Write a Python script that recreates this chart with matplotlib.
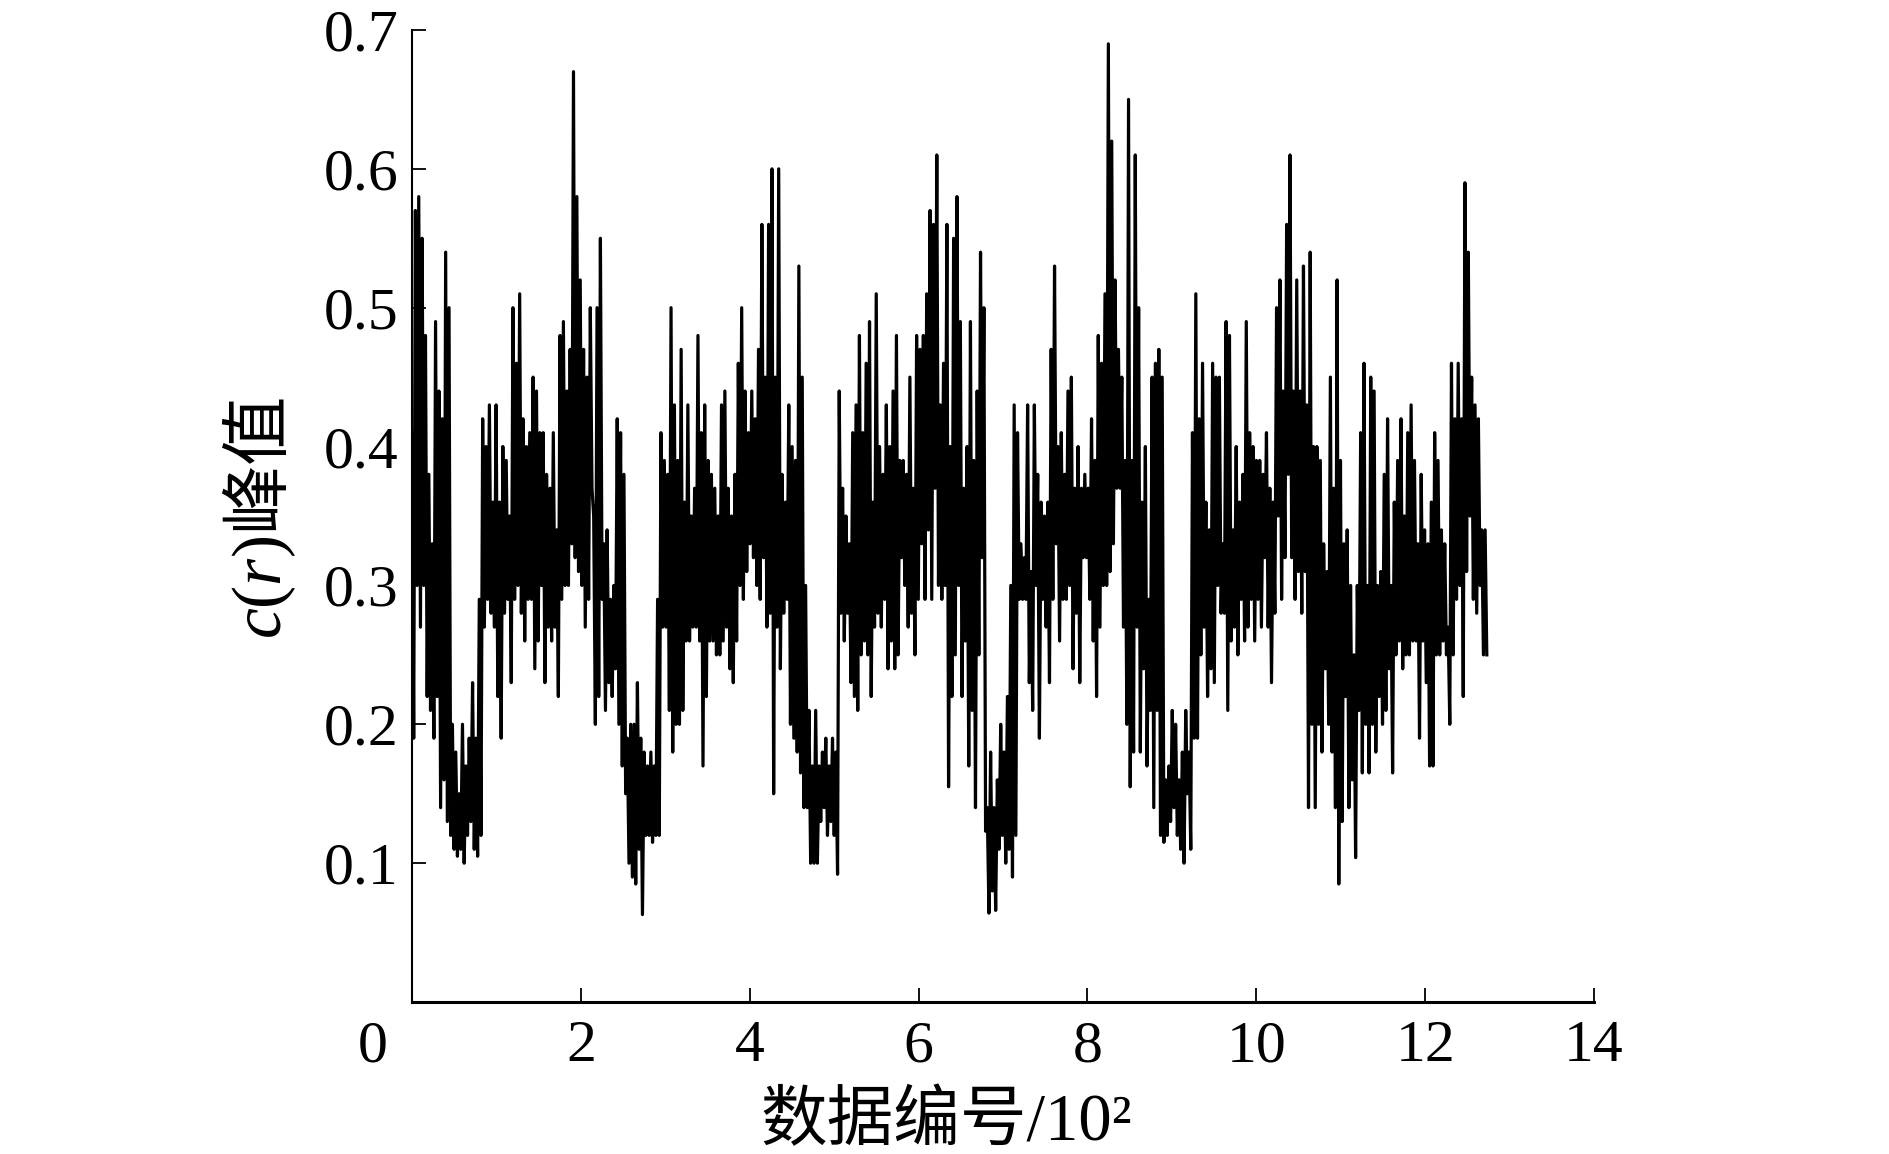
import numpy as np
import matplotlib
matplotlib.use("Agg")
from matplotlib import pyplot as plt
from matplotlib import transforms

plt.rcParams['font.family'] = ['Liberation Serif', 'Noto Sans CJK SC']
plt.rcParams['mathtext.fontset'] = 'custom'
plt.rcParams['mathtext.rm'] = 'Liberation Serif'
plt.rcParams['mathtext.it'] = 'Liberation Serif:italic'
plt.rcParams['mathtext.sf'] = 'Noto Sans CJK SC'

# c(r) peak values, 80 samples per block (upper / lower swing)
seg1 = [0.41, 0.19, 0.57, 0.30, 0.58, 0.27, 0.55, 0.30, 0.48, 0.22, 0.38, 0.21, 0.33, 0.19, 0.49, 0.22,
        0.44, 0.14, 0.42, 0.16, 0.54, 0.13, 0.50, 0.12, 0.20, 0.11, 0.18, 0.105, 0.15, 0.11, 0.20, 0.10,
        0.17, 0.12, 0.19, 0.13, 0.23, 0.11, 0.19, 0.105, 0.29, 0.12, 0.42, 0.27, 0.40, 0.29, 0.43, 0.28,
        0.36, 0.27, 0.43, 0.22, 0.36, 0.19, 0.40, 0.28, 0.39, 0.29, 0.35, 0.23, 0.50, 0.29, 0.46, 0.30,
        0.51, 0.28, 0.42, 0.26, 0.40, 0.29, 0.41, 0.29, 0.45, 0.24, 0.44, 0.26, 0.41, 0.30, 0.41, 0.23]
seg2 = [0.38, 0.27, 0.37, 0.26, 0.41, 0.27, 0.34, 0.22, 0.48, 0.29, 0.49, 0.30, 0.44, 0.30, 0.47, 0.33,
        0.67, 0.32, 0.58, 0.31, 0.52, 0.30, 0.47, 0.27, 0.45, 0.29, 0.50, 0.37, 0.35, 0.20, 0.50, 0.22,
        0.55, 0.29, 0.33, 0.21, 0.34, 0.23, 0.29, 0.22, 0.30, 0.24, 0.42, 0.20, 0.41, 0.17, 0.38, 0.15,
        0.19, 0.10, 0.20, 0.09, 0.20, 0.085, 0.23, 0.11, 0.19, 0.063, 0.18, 0.12, 0.17, 0.12, 0.18, 0.115,
        0.17, 0.12, 0.29, 0.12, 0.41, 0.27, 0.39, 0.27, 0.38, 0.21, 0.50, 0.18, 0.43, 0.20, 0.39, 0.20]
seg3 = [0.47, 0.21, 0.36, 0.26, 0.43, 0.26, 0.35, 0.27, 0.37, 0.27, 0.48, 0.26, 0.41, 0.17, 0.43, 0.22,
        0.39, 0.26, 0.38, 0.26, 0.37, 0.25, 0.35, 0.25, 0.43, 0.26, 0.44, 0.27, 0.37, 0.24, 0.35, 0.23,
        0.38, 0.26, 0.46, 0.30, 0.50, 0.29, 0.44, 0.31, 0.41, 0.33, 0.44, 0.32, 0.42, 0.30, 0.47, 0.29,
        0.56, 0.32, 0.45, 0.27, 0.56, 0.28, 0.60, 0.15, 0.45, 0.27, 0.60, 0.24, 0.38, 0.28, 0.36, 0.29,
        0.43, 0.20, 0.40, 0.19, 0.39, 0.18, 0.53, 0.165, 0.45, 0.14, 0.30, 0.14, 0.21, 0.10, 0.17, 0.10]
seg4 = [0.21, 0.10, 0.17, 0.13, 0.18, 0.14, 0.19, 0.12, 0.17, 0.13, 0.19, 0.12, 0.18, 0.092, 0.44, 0.28,
        0.37, 0.26, 0.35, 0.28, 0.33, 0.23, 0.41, 0.22, 0.43, 0.21, 0.48, 0.25, 0.41, 0.26, 0.46, 0.25,
        0.49, 0.22, 0.36, 0.27, 0.51, 0.28, 0.40, 0.27, 0.38, 0.29, 0.43, 0.24, 0.40, 0.26, 0.44, 0.24,
        0.48, 0.25, 0.39, 0.32, 0.39, 0.30, 0.38, 0.27, 0.45, 0.28, 0.37, 0.25, 0.48, 0.29, 0.47, 0.33,
        0.48, 0.29, 0.51, 0.34, 0.57, 0.29, 0.56, 0.37, 0.61, 0.30, 0.43, 0.29, 0.46, 0.30, 0.56, 0.155]
seg5 = [0.40, 0.22, 0.55, 0.25, 0.58, 0.30, 0.49, 0.22, 0.37, 0.26, 0.40, 0.17, 0.49, 0.21, 0.39, 0.14,
        0.44, 0.25, 0.54, 0.32, 0.50, 0.123, 0.14, 0.064, 0.18, 0.08, 0.14, 0.066, 0.16, 0.11, 0.20, 0.12,
        0.18, 0.10, 0.22, 0.11, 0.30, 0.09, 0.43, 0.12, 0.41, 0.29, 0.33, 0.29, 0.32, 0.29, 0.43, 0.23,
        0.31, 0.21, 0.43, 0.30, 0.38, 0.19, 0.36, 0.29, 0.35, 0.27, 0.36, 0.23, 0.47, 0.29, 0.53, 0.33,
        0.40, 0.26, 0.41, 0.29, 0.38, 0.29, 0.44, 0.30, 0.45, 0.24, 0.37, 0.28, 0.40, 0.23, 0.37, 0.32]
seg6 = [0.38, 0.32, 0.37, 0.29, 0.42, 0.26, 0.39, 0.22, 0.48, 0.27, 0.46, 0.30, 0.51, 0.30, 0.69, 0.31,
        0.62, 0.33, 0.52, 0.37, 0.47, 0.37, 0.45, 0.27, 0.39, 0.20, 0.65, 0.155, 0.39, 0.18, 0.61, 0.27,
        0.50, 0.18, 0.36, 0.24, 0.40, 0.17, 0.29, 0.21, 0.45, 0.14, 0.46, 0.21, 0.47, 0.12, 0.45, 0.115,
        0.16, 0.12, 0.17, 0.13, 0.21, 0.14, 0.20, 0.12, 0.16, 0.11, 0.18, 0.10, 0.21, 0.15, 0.18, 0.11,
        0.41, 0.19, 0.51, 0.19, 0.42, 0.25, 0.46, 0.27, 0.36, 0.22, 0.34, 0.24, 0.46, 0.23, 0.45, 0.30]
seg7 = [0.45, 0.28, 0.33, 0.28, 0.49, 0.21, 0.48, 0.26, 0.34, 0.27, 0.40, 0.25, 0.36, 0.29, 0.38, 0.26,
        0.49, 0.27, 0.41, 0.29, 0.40, 0.26, 0.39, 0.29, 0.39, 0.27, 0.38, 0.32, 0.41, 0.27, 0.37, 0.23,
        0.36, 0.28, 0.50, 0.35, 0.52, 0.29, 0.44, 0.32, 0.56, 0.38, 0.61, 0.32, 0.44, 0.29, 0.52, 0.31,
        0.44, 0.28, 0.53, 0.31, 0.43, 0.14, 0.54, 0.20, 0.40, 0.14, 0.40, 0.20, 0.39, 0.18, 0.33, 0.24,
        0.31, 0.20, 0.45, 0.18, 0.37, 0.14, 0.52, 0.085, 0.39, 0.13, 0.33, 0.22, 0.34, 0.14, 0.30, 0.16]
seg8 = [0.25, 0.104, 0.30, 0.21, 0.41, 0.165, 0.46, 0.20, 0.30, 0.165, 0.45, 0.20, 0.44, 0.18, 0.30, 0.22,
        0.31, 0.20, 0.38, 0.21, 0.42, 0.24, 0.30, 0.165, 0.36, 0.25, 0.39, 0.26, 0.42, 0.24, 0.35, 0.25,
        0.41, 0.25, 0.43, 0.26, 0.39, 0.26, 0.33, 0.19, 0.38, 0.26, 0.34, 0.23, 0.33, 0.17, 0.36, 0.17,
        0.41, 0.25, 0.39, 0.25, 0.34, 0.26, 0.33, 0.25, 0.27, 0.20, 0.46, 0.25, 0.42, 0.29, 0.46, 0.30,
        0.42, 0.22, 0.59, 0.31, 0.54, 0.35, 0.45, 0.29, 0.43, 0.28, 0.42, 0.30, 0.34, 0.25, 0.34, 0.25]

x_ticks = [0, 2, 4, 6, 8, 10, 12, 14]
x_labels = ['0', '2', '4', '6', '8', '10', '12', '14']
y_ticks = [0.1, 0.2, 0.3, 0.4, 0.5, 0.6, 0.7]
y_labels = ['0.1', '0.2', '0.3', '0.4', '0.5', '0.6', '0.7']

peak = np.array(seg1 + seg2 + seg3 + seg4 + seg5 + seg6 + seg7 + seg8)
idx = np.linspace(0, 12.73, len(peak))  # data number / 100

fig = plt.figure(figsize=(18.9, 11.54), dpi=100)
ax = fig.add_axes([0.218, 0.1317, 0.6254, 0.8423])
ax.plot(idx, peak, color='black', lw=2.3)

ax.set_xlim(0, 14)
ax.set_ylim(0, 0.7)
ax.set_xticks(x_ticks)
ax.set_xticklabels(x_labels)
ax.set_yticks(y_ticks)
ax.set_yticklabels(y_labels)

ax.spines['top'].set_visible(False)
ax.spines['right'].set_visible(False)
ax.spines['left'].set_linewidth(1.5)
ax.spines['bottom'].set_linewidth(2.2)
ax.tick_params(direction='in', length=10, width=1.3, labelsize=43)
ax.tick_params(axis='x', pad=13)
ax.tick_params(axis='y', pad=10)

# the "0" sits left of the y axis in the original
lab0 = ax.xaxis.get_major_ticks()[0].label1
lab0.set_transform(lab0.get_transform() + transforms.ScaledTranslation(-0.39, 0, fig.dpi_scale_trans))

ax.set_xlabel('数据编号/10²', fontsize=48)
ax.xaxis.label.set_va('center')
ax.xaxis.set_label_coords(0.452, -0.124)

ax.set_ylabel(r'$c(r)\mathsf{峰值}$', fontsize=50)
ax.yaxis.label.set_va('center')
ax.yaxis.set_label_coords(-0.129, 0.498)

fig.savefig('out.png', dpi=100)
